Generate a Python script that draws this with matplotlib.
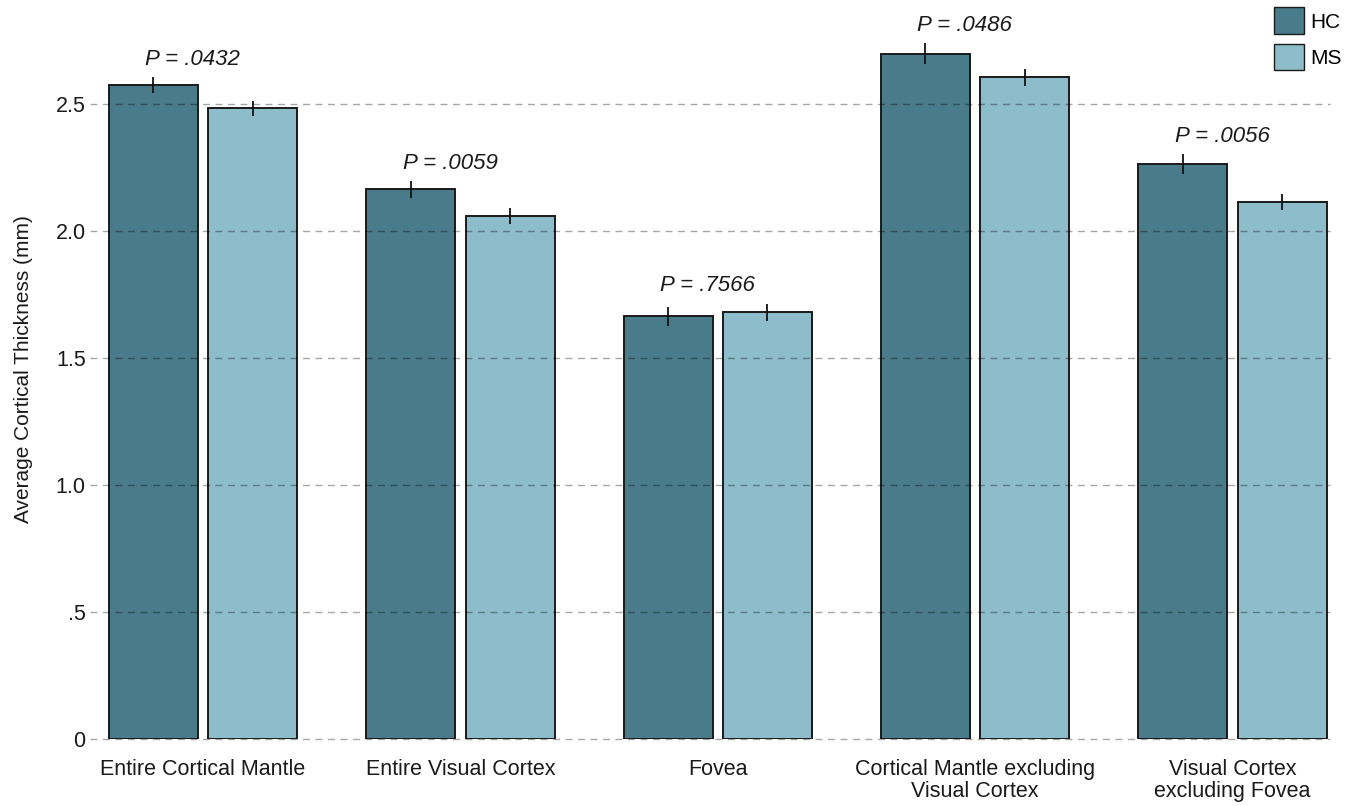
import numpy as np
import matplotlib
matplotlib.use('Agg')
import matplotlib.pyplot as plt
from matplotlib.patches import Patch

plt.rcParams['font.family'] = ['Liberation Sans', 'DejaVu Sans']

# mean cortical thickness (mm) and error per region
regions = ['Entire Cortical Mantle', 'Entire Visual Cortex', 'Fovea',
           'Cortical Mantle excluding\nVisual Cortex', 'Visual Cortex\nexcluding Fovea']
hc_mean = [2.575, 2.164, 1.665, 2.699, 2.263]
ms_mean = [2.483, 2.059, 1.680, 2.605, 2.115]
hc_err = [0.030, 0.032, 0.038, 0.040, 0.039]
ms_err = [0.030, 0.031, 0.035, 0.034, 0.033]
p_values = ['.0432', '.0059', '.7566', '.0486', '.0056']

hc_color = '#4a7b8a'
ms_color = '#8dbccb'

fig = plt.figure(figsize=(13.61, 8.06), dpi=100)
ax = fig.add_axes([0.066, 0.083, 0.911, 0.917])

x = np.arange(len(regions))
w = 0.346
off = 0.193

ax.bar(x - off, hc_mean, w, color=hc_color, edgecolor='#1a1a1a', linewidth=1.4, zorder=2)
ax.bar(x + off, ms_mean, w, color=ms_color, edgecolor='#1a1a1a', linewidth=1.4, zorder=2)
ax.errorbar(x - off, hc_mean, yerr=hc_err, fmt='none', ecolor='#111111', elinewidth=1.3, capsize=0, zorder=4)
ax.errorbar(x + off, ms_mean, yerr=ms_err, fmt='none', ecolor='#111111', elinewidth=1.3, capsize=0, zorder=4)

# dashed gridlines sit over the bars
for yv in [0, 0.5, 1.0, 1.5, 2.0, 2.5]:
    ax.axhline(yv, color='black', alpha=0.35, linestyle=(0, (5, 4)), linewidth=1.0,
               zorder=3, clip_on=False)

for i, p in enumerate(p_values):
    top = max(hc_mean[i] + hc_err[i], ms_mean[i] + ms_err[i])
    ax.text(x[i] - 0.04, top + 0.028, 'P = ' + p, ha='center', va='bottom',
            fontsize=16, style='italic', color='#1a1a1a')

ax.set_xlim(-0.44, 4.378)
ax.set_ylim(0, 2.91)
ax.set_yticks([0, 0.5, 1.0, 1.5, 2.0, 2.5])
ax.set_yticklabels(['0', '.5', '1.0', '1.5', '2.0', '2.5'])
ax.set_xticks(x)
ax.set_xticklabels(regions, linespacing=1.08)
ax.tick_params(axis='both', length=0, labelsize=15.5, colors='#1a1a1a')
ax.tick_params(axis='y', pad=3)
ax.tick_params(axis='x', pad=14)
for s in ax.spines.values():
    s.set_visible(False)
ax.set_ylabel('Average Cortical Thickness (mm)', fontsize=15, color='#1a1a1a', labelpad=16)

handles = [Patch(facecolor=hc_color, edgecolor='#1a1a1a', label='HC'),
           Patch(facecolor=ms_color, edgecolor='#1a1a1a', label='MS')]
fig.legend(handles=handles, loc='upper right', bbox_to_anchor=(1.0, 1.014), frameon=False,
           fontsize=15, handlelength=1.45, handleheight=1.6, handletextpad=0.3, labelspacing=0.45)

fig.savefig('out.png', dpi=100)
